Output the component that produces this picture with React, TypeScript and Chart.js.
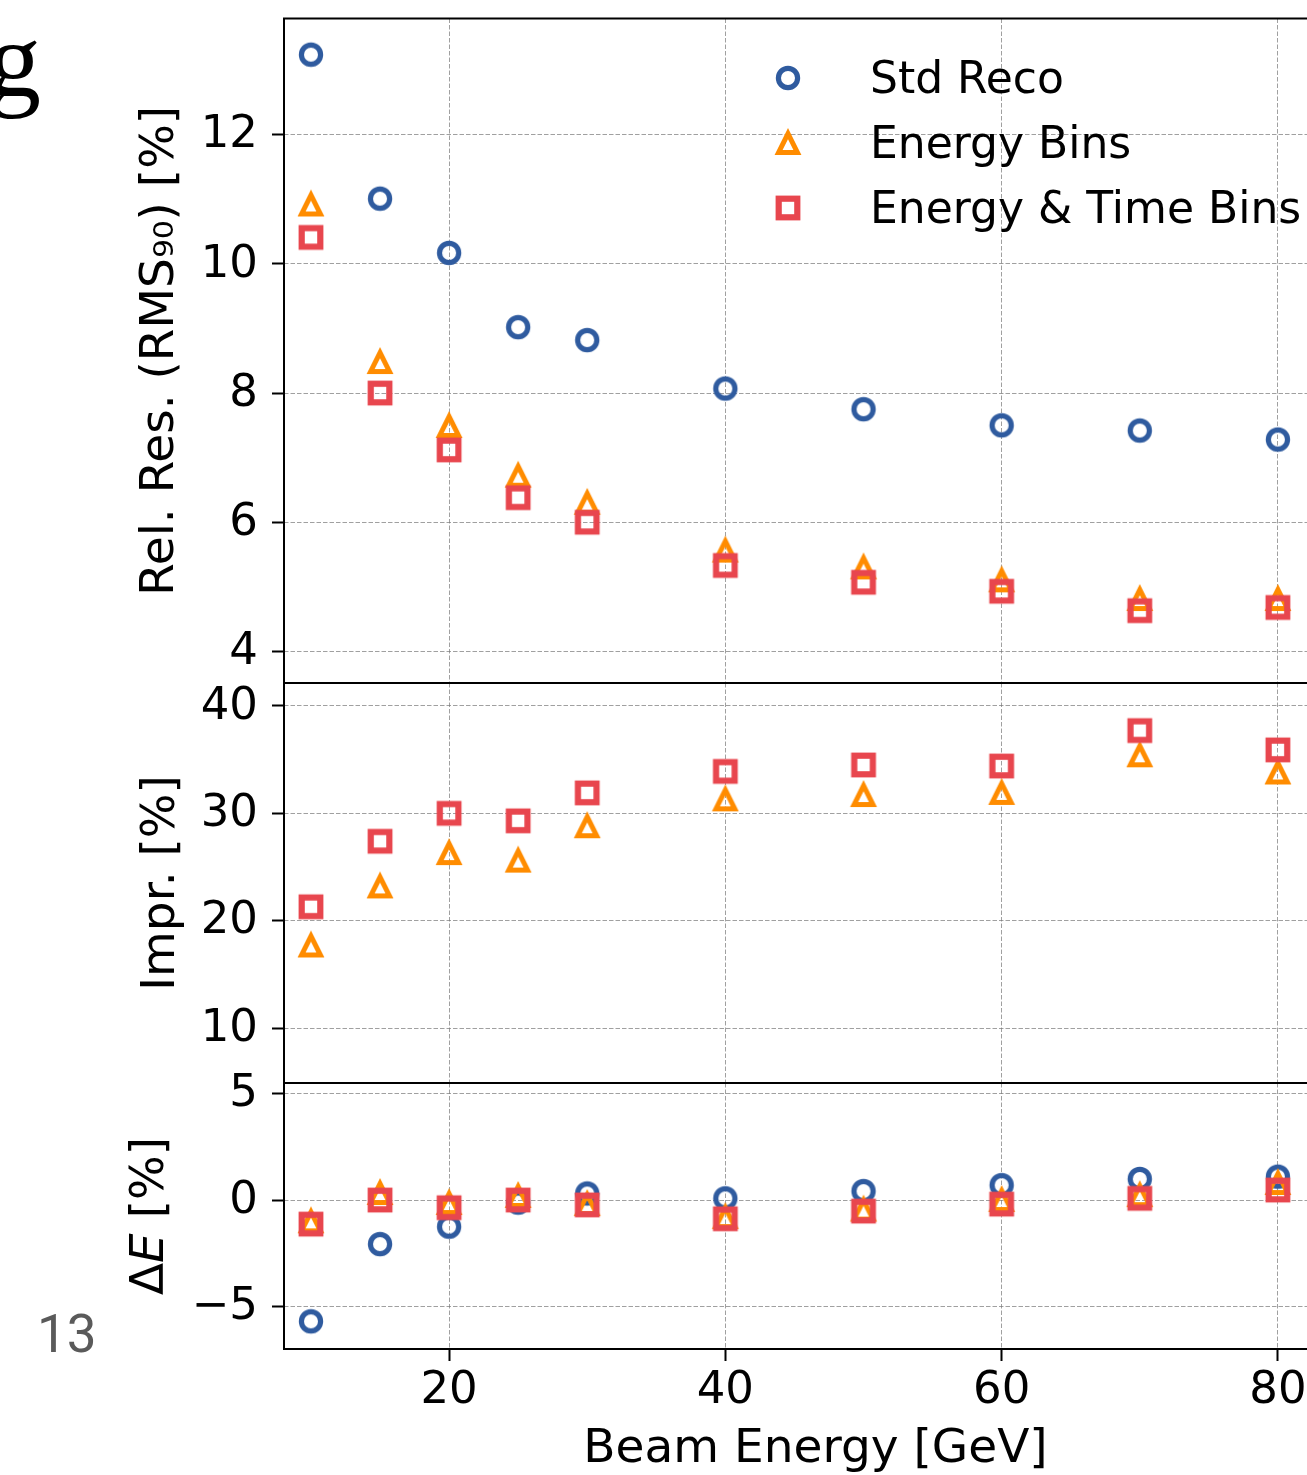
import React, { useEffect, useRef } from 'react';
import { Chart, registerables } from 'chart.js';

Chart.register(...registerables);

// ---------------- data ----------------
const ENERGY = [10, 15, 20, 25, 30, 40, 50, 60, 70, 80];
const SERIES_LABELS = ['Std Reco', 'Energy Bins', 'Energy & Time Bins'];

const RES_STD = [13.24, 11.01, 10.17, 9.02, 8.82, 8.07, 7.75, 7.5, 7.42, 7.28];
const RES_EBINS = [10.92, 8.48, 7.49, 6.72, 6.3, 5.56, 5.3, 5.1, 4.81, 4.81];
const RES_ETBINS = [10.41, 8.0, 7.12, 6.38, 6.0, 5.33, 5.07, 4.93, 4.63, 4.68];

const IMPR_EBINS = [17.7, 23.2, 26.3, 25.6, 28.8, 31.3, 31.7, 31.9, 35.4, 33.8];
const IMPR_ETBINS = [21.3, 27.4, 30.0, 29.3, 31.9, 33.9, 34.5, 34.4, 37.7, 35.9];

const DE_STD = [-5.7, -2.07, -1.25, -0.12, 0.31, 0.08, 0.42, 0.7, 0.99, 1.1];
const DE_EBINS = [-1.0, 0.33, -0.14, 0.19, -0.19, -0.8, -0.45, 0.0, 0.23, 0.8];
const DE_ETBINS = [-1.13, 0.0, -0.36, 0.0, -0.23, -0.88, -0.52, -0.19, 0.08, 0.47];

const X_TICKS = [20, 40, 60, 80];
const RES_TICKS = [4, 6, 8, 10, 12];
const IMPR_TICKS = [10, 20, 30, 40];
const DE_TICKS = [-5, 0, 5];

const X_TITLE = 'Beam Energy [GeV]';
const RES_TITLE = 'Rel. Res. (RMS\u2089\u2080) [%]';
const IMPR_TITLE = 'Impr. [%]';

// ---------------- layout / style ----------------
const W = 1400;
const H = 1475;
const CHART_LEFT = 284;
const CHART_RIGHT = 1347;
const TOP_Y = 18.5;
const MID_Y = 683;
const BOT_Y = 1083;
const AXIS_Y = 1349;
const X_MIN = 8.05;
const X_MAX = 85.0;

const FONT = '"DejaVu Sans", sans-serif';
const BLUE = '#2f5b9f';
const ORANGE = '#ff8c00';
const RED = '#e8464e';
const GRID = 'rgba(120,120,120,0.7)';
const DASH = [4.5, 2];

function makeMarker(kind: string, color: string): HTMLCanvasElement {
  const c = document.createElement('canvas');
  c.width = 36;
  c.height = 36;
  const ctx = c.getContext('2d') as CanvasRenderingContext2D;
  ctx.strokeStyle = color;
  ctx.lineJoin = 'miter';
  const m = 18;
  if (kind === 'circle') {
    ctx.lineWidth = 5.2;
    ctx.beginPath();
    ctx.arc(m, m, 9.6, 0, Math.PI * 2);
    ctx.stroke();
  } else if (kind === 'triangle') {
    const a = 9.4;
    ctx.lineWidth = 5;
    ctx.beginPath();
    ctx.moveTo(m, m - a);
    ctx.lineTo(m + a, m + a);
    ctx.lineTo(m - a, m + a);
    ctx.closePath();
    ctx.stroke();
  } else {
    const a = 9.3;
    ctx.lineWidth = 6.2;
    ctx.strokeRect(m - a, m - a, 2 * a, 2 * a);
  }
  return c;
}

const fmt = (v: any) => (Number(v) < 0 ? '\u2212' + Math.abs(Number(v)) : String(v));

function xScale(showLabels: boolean) {
  return {
    type: 'linear',
    position: 'bottom',
    min: X_MIN,
    max: X_MAX,
    afterBuildTicks: (s: any) => {
      s.ticks = X_TICKS.map((v) => ({ value: v }));
    },
    afterFit: (s: any) => {
      s.height = showLabels ? H - AXIS_Y : 0;
      s.paddingLeft = 0;
      s.paddingRight = 0;
      s.paddingTop = 0;
      s.paddingBottom = 0;
    },
    grid: {
      color: GRID,
      lineWidth: 1,
      drawTicks: showLabels,
      tickLength: 12,
      tickColor: '#000',
      tickWidth: 2,
      tickBorderDash: [],
    },
    border: { display: false, dash: DASH },
    ticks: {
      display: showLabels,
      color: '#000',
      font: { family: FONT, size: 45, lineHeight: 1 },
      padding: 8,
      maxRotation: 0,
      autoSkip: false,
      callback: fmt,
    },
    title: showLabels
      ? {
          display: true,
          text: X_TITLE,
          color: '#000',
          font: { family: FONT, size: 47, lineHeight: 1 },
          padding: { top: 0, bottom: 2 },
        }
      : { display: false },
  };
}

function yScale(min: number, max: number, ticks: number[], padLeft: number, title: string | null) {
  return {
    type: 'linear',
    position: 'left',
    min,
    max,
    afterBuildTicks: (s: any) => {
      s.ticks = ticks.map((v) => ({ value: v }));
    },
    afterFit: (s: any) => {
      s.width = CHART_LEFT - padLeft;
      s.paddingLeft = 0;
      s.paddingRight = 0;
      s.paddingTop = 0;
      s.paddingBottom = 0;
    },
    grid: {
      color: GRID,
      lineWidth: 1,
      drawTicks: true,
      tickLength: 12,
      tickColor: '#000',
      tickWidth: 2,
      tickBorderDash: [],
    },
    border: { display: false, dash: DASH },
    ticks: {
      color: '#000',
      font: { family: FONT, size: 45, lineHeight: 1 },
      padding: 14,
      labelOffset: 1,
      autoSkip: false,
      callback: fmt,
    },
    title: title
      ? {
          display: true,
          text: title,
          color: '#000',
          font: { family: FONT, size: 47, lineHeight: 1 },
          padding: { top: 0, bottom: 0 },
        }
      : { display: false },
  };
}

const framePlugin = {
  id: 'frame',
  afterDraw(chart: any) {
    const { ctx, chartArea: a } = chart;
    ctx.save();
    ctx.strokeStyle = '#000';
    ctx.lineWidth = 2;
    ctx.strokeRect(a.left, a.top, a.right - a.left, a.bottom - a.top);
    ctx.restore();
  },
};

const legendPlugin = {
  id: 'innerLegend',
  afterDraw(chart: any) {
    const { ctx } = chart;
    const markerX = 788;
    const textX = 870;
    const firstY = 78;
    const step = 65;
    ctx.save();
    ctx.font = `44px ${FONT}`;
    ctx.fillStyle = '#000';
    ctx.textBaseline = 'alphabetic';
    ctx.textAlign = 'left';
    chart.data.datasets.forEach((ds: any, i: number) => {
      const cy = firstY + step * i;
      const img = ds.pointStyle as HTMLCanvasElement;
      ctx.drawImage(img, markerX - img.width / 2, cy - img.height / 2);
      ctx.fillText(ds.label, textX, cy + 15);
    });
    ctx.restore();
  },
};

const deTitlePlugin = {
  id: 'deTitle',
  afterDraw(chart: any) {
    const { ctx, chartArea: a } = chart;
    const cx = 151;
    const cy = (a.top + a.bottom) / 2;
    const segs = [
      { t: '\u0394', f: `47px ${FONT}` },
      { t: 'E', f: `italic 47px ${FONT}` },
      { t: ' [%]', f: `47px ${FONT}` },
    ];
    ctx.save();
    let total = 0;
    const widths = segs.map((s) => {
      ctx.font = s.f;
      const w = ctx.measureText(s.t).width;
      total += w;
      return w;
    });
    ctx.translate(cx, cy);
    ctx.rotate(-Math.PI / 2);
    ctx.textBaseline = 'middle';
    ctx.textAlign = 'left';
    ctx.fillStyle = '#000';
    let x = -total / 2;
    segs.forEach((s, i) => {
      ctx.font = s.f;
      ctx.fillText(s.t, x, 0);
      x += widths[i];
    });
    ctx.restore();
  },
};

function pts(ys: number[]) {
  return ENERGY.map((x, i) => ({ x, y: ys[i] }));
}

function panel(
  datasets: any[],
  area: { top: number; bottom: number; padLeft: number; showX: boolean },
  y: any,
  plugins: any[]
) {
  return {
    type: 'scatter',
    data: { datasets },
    options: {
      responsive: false,
      maintainAspectRatio: false,
      animation: false,
      events: [],
      layout: {
        padding: {
          left: area.padLeft,
          top: area.top,
          right: W - CHART_RIGHT,
          bottom: area.showX ? 0 : H - area.bottom,
        },
      },
      plugins: { legend: { display: false }, tooltip: { enabled: false } },
      scales: { x: xScale(area.showX), y },
    },
    plugins,
  } as any;
}

export default function App() {
  const topRef = useRef<HTMLCanvasElement>(null);
  const midRef = useRef<HTMLCanvasElement>(null);
  const botRef = useRef<HTMLCanvasElement>(null);

  useEffect(() => {
    const circle = makeMarker('circle', BLUE);
    const tri = makeMarker('triangle', ORANGE);
    const sq = makeMarker('square', RED);
    const ds = (label: string, ys: number[], style: HTMLCanvasElement, order: number) => ({
      label,
      data: pts(ys),
      pointStyle: style,
      pointRadius: 10,
      pointHoverRadius: 10,
      showLine: false,
      order,
    });

    const top = new Chart(
      topRef.current as HTMLCanvasElement,
      panel(
        [
          ds(SERIES_LABELS[0], RES_STD, circle, 3),
          ds(SERIES_LABELS[1], RES_EBINS, tri, 2),
          ds(SERIES_LABELS[2], RES_ETBINS, sq, 1),
        ],
        { top: TOP_Y, bottom: MID_Y, padLeft: 137.5, showX: false },
        yScale(3.51, 13.8, RES_TICKS, 137.5, RES_TITLE),
        [framePlugin, legendPlugin]
      )
    );
    const mid = new Chart(
      midRef.current as HTMLCanvasElement,
      panel(
        [ds(SERIES_LABELS[1], IMPR_EBINS, tri, 2), ds(SERIES_LABELS[2], IMPR_ETBINS, sq, 1)],
        { top: MID_Y, bottom: BOT_Y, padLeft: 138.5, showX: false },
        yScale(4.9, 42.13, IMPR_TICKS, 138.5, IMPR_TITLE),
        [framePlugin]
      )
    );
    const bot = new Chart(
      botRef.current as HTMLCanvasElement,
      panel(
        [
          ds(SERIES_LABELS[0], DE_STD, circle, 3),
          ds(SERIES_LABELS[1], DE_EBINS, tri, 2),
          ds(SERIES_LABELS[2], DE_ETBINS, sq, 1),
        ],
        { top: BOT_Y, bottom: AXIS_Y, padLeft: 128, showX: true },
        yScale(-7.0, 5.5, DE_TICKS, 128, null),
        [framePlugin, deTitlePlugin]
      )
    );
    return () => {
      top.destroy();
      mid.destroy();
      bot.destroy();
    };
  }, []);

  const cv: React.CSSProperties = { position: 'absolute', left: 0, top: 0, width: W, height: H };

  return (
    <div
      style={{
        position: 'absolute',
        left: 0,
        top: 0,
        width: 1307,
        height: 1475,
        overflow: 'hidden',
        background: '#ffffff',
      }}
    >
      <canvas ref={topRef} width={W} height={H} style={cv} />
      <canvas ref={midRef} width={W} height={H} style={cv} />
      <canvas ref={botRef} width={W} height={H} style={cv} />
      <div
        style={{
          position: 'absolute',
          left: -13,
          top: 6,
          fontFamily: '"Liberation Serif", serif',
          fontSize: 108,
          lineHeight: '108px',
          color: '#000',
        }}
      >
        g
      </div>
      <div
        style={{
          position: 'absolute',
          left: 37,
          top: 1308,
          fontFamily: 'Roboto, sans-serif',
          fontSize: 53,
          lineHeight: '53px',
          color: '#5a5a5a',
        }}
      >
        13
      </div>
    </div>
  );
}
